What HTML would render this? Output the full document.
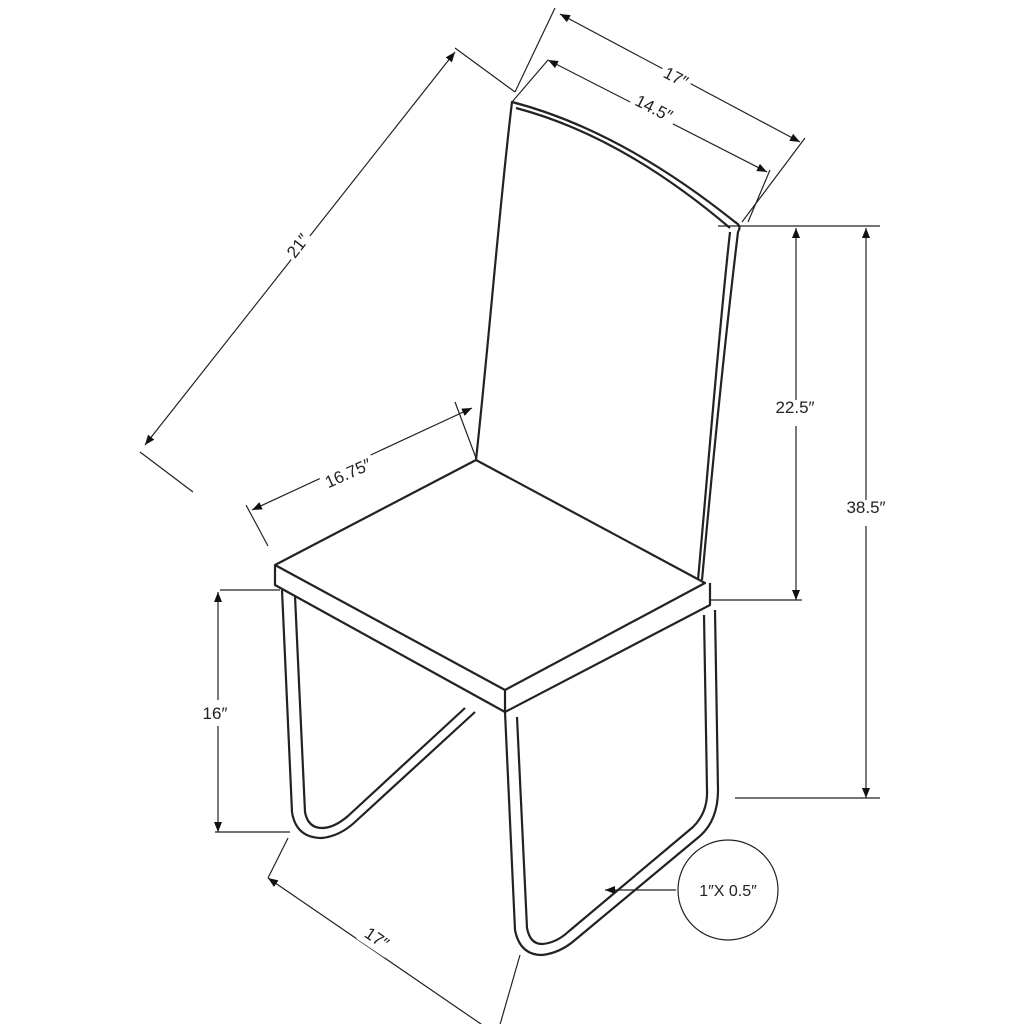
<!DOCTYPE html>
<html><head><meta charset="utf-8"><style>
html,body{margin:0;padding:0;background:#fff;}
svg{display:block;}
text{font-family:"Liberation Sans",sans-serif;font-size:17px;fill:#222;}
</style></head><body>
<svg width="1024" height="1024" viewBox="0 0 1024 1024" xmlns="http://www.w3.org/2000/svg">
<defs>
<marker id="a" viewBox="0 0 10 10" refX="10" refY="5" markerWidth="10" markerHeight="10" orient="auto-start-reverse" markerUnits="userSpaceOnUse">
<path d="M0,1 L10,5 L0,9 z" fill="#111"/></marker>
</defs>
<g fill="none" stroke="#222" stroke-width="2.2" stroke-linejoin="round">
<!-- back -->
<path d="M476,460 C490,330 500,200 512,102 Q620,130 735,222 Q742,226 738,232 C725,340 712,470 702,580"/>
<path d="M516,108 Q622,136 730,228"/>
<path d="M730,232 C718,340 708,470 698,580"/>
<!-- seat -->
<path d="M275,565 L476,460 L705,583 L505,690 Z"/>
<path d="M275,565 L275,585 L505,712 L505,690"/>
<path d="M505,712 L710,605 L710,583"/>
<!-- left leg -->
<path d="M282,590 L292,812 Q296,838 322,838 Q340,836 355,822 L475,712"/>
<path d="M295,596 L305,812 Q308,828 322,828 Q334,828 348,816 L465,708"/>
<!-- front leg -->
<path d="M505,712 L515,930 Q520,955 542,955 Q560,953 575,940 L700,836 Q718,820 718,790 L715,610"/>
<path d="M517,717 L527,928 Q530,944 542,944 Q556,943 568,932 L693,827 Q708,812 707,790 L704,615"/>
</g>
<g fill="none" stroke="#222" stroke-width="1.2">
<!-- extension lines -->
<path d="M455,48 L515,92 M140,452 L193,492"/>
<path d="M555,8 L515,92 M805,138 L742,222"/>
<path d="M548,60 L512,102 M770,170 L748,222"/>
<path d="M718,226 L880,226 M710,600 L802,600 M735,798 L880,798"/>
<path d="M220,590 L280,590 M215,832 L290,832"/>
<path d="M268,546 L246,505 M476,458 L455,402"/>
<path d="M288,838 L268,878 M520,955 L497,1035"/>
<!-- dimension lines -->
<line x1="145" y1="445" x2="455" y2="52" marker-start="url(#a)" marker-end="url(#a)"/>
<line x1="560" y1="14" x2="800" y2="142" marker-start="url(#a)" marker-end="url(#a)"/>
<line x1="548" y1="60" x2="767" y2="172" marker-start="url(#a)" marker-end="url(#a)"/>
<line x1="796" y1="228" x2="796" y2="600" marker-start="url(#a)" marker-end="url(#a)"/>
<line x1="866" y1="228" x2="866" y2="798" marker-start="url(#a)" marker-end="url(#a)"/>
<line x1="218" y1="592" x2="218" y2="832" marker-start="url(#a)" marker-end="url(#a)"/>
<line x1="268" y1="878" x2="497" y2="1035" marker-start="url(#a)" marker-end="url(#a)"/>
<line x1="252" y1="510" x2="472" y2="408" marker-start="url(#a)" marker-end="url(#a)"/>
<circle cx="728" cy="890" r="50"/>
<line x1="676" y1="890" x2="605" y2="890" marker-end="url(#a)"/>
</g>
<g fill="#fff" stroke="none">
<rect x="282" y="232" width="30" height="26" transform="rotate(-52 297 245)"/>
<rect x="660" y="65" width="32" height="24" transform="rotate(28 676 77)"/>
<rect x="630" y="96" width="48" height="24" transform="rotate(27 654 108)"/>
<rect x="768" y="400" width="54" height="26"/>
<rect x="838" y="500" width="56" height="26"/>
<rect x="190" y="700" width="50" height="26"/>
<rect x="360" y="926" width="34" height="24" transform="rotate(34 377 938)"/>
<rect x="320" y="460" width="56" height="26" transform="rotate(-24 348 473)"/>
</g>
<text x="297" y="252" text-anchor="middle" transform="rotate(-52 297 245)">21″</text>
<text x="676" y="83" text-anchor="middle" transform="rotate(28 676 77)">17″</text>
<text x="654" y="114" text-anchor="middle" transform="rotate(27 654 108)">14.5″</text>
<text x="795" y="413" text-anchor="middle">22.5″</text>
<text x="866" y="513" text-anchor="middle">38.5″</text>
<text x="215" y="719" text-anchor="middle">16″</text>
<text x="377" y="944" text-anchor="middle" transform="rotate(34 377 938)">17″</text>
<text x="348" y="479" text-anchor="middle" transform="rotate(-24 348 473)">16.75″</text>
<text x="728" y="896" text-anchor="middle" style="font-size:16px">1″X 0.5″</text>
</svg>
</body></html>
